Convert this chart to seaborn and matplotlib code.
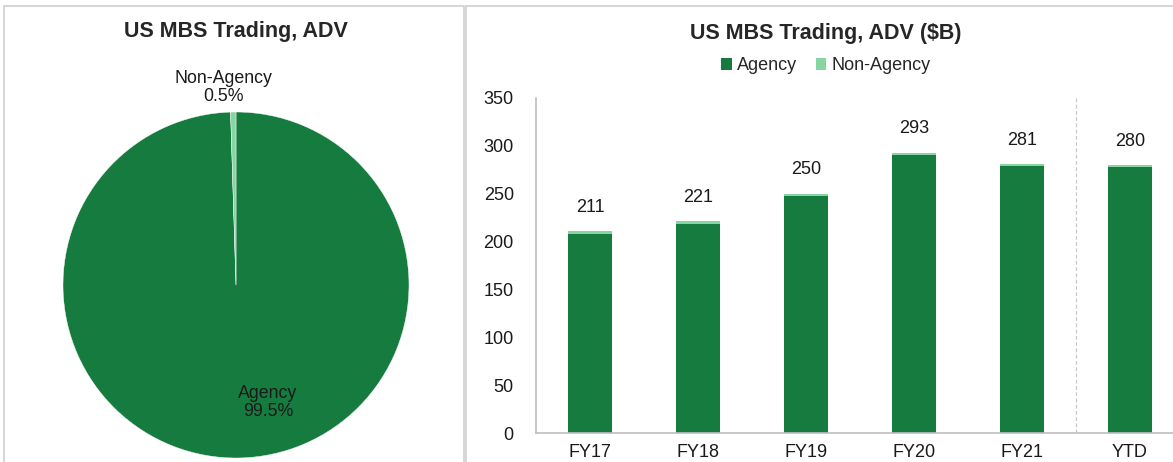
import pandas as pd
import numpy as np
import matplotlib
matplotlib.use("Agg")
import matplotlib.pyplot as plt
from matplotlib.patches import Rectangle
import seaborn as sns

# data
pie_labels = ["Agency", "Non-Agency"]
pie_share = [99.5, 0.5]

years = ["FY17", "FY18", "FY19", "FY20", "FY21", "YTD"]
agency = [207.8, 218.4, 247.8, 290.6, 279.0, 278.0]
non_agency = [3.2, 2.6, 2.2, 2.4, 2.0, 2.0]

dark_green = "#167B3E"
light_green = "#86D5A2"
grid_grey = "#BFBFBF"

sns.set_style("white")
plt.rcParams["font.family"] = ["Liberation Sans", "DejaVu Sans"]

W, H = 1173, 462
fig = plt.figure(figsize=(W / 100, H / 100), dpi=100)

def fx(px):
    return px / W

def fy(py):
    return 1 - py / H

# panel frames
fig.patches.append(Rectangle((fx(4), fy(470)), fx(460), fy(6) - fy(470), transform=fig.transFigure,
                             fill=False, edgecolor="#D0D0D0", linewidth=1.2))
fig.patches.append(Rectangle((fx(466), fy(470)), fx(720), fy(6) - fy(470), transform=fig.transFigure,
                             fill=False, edgecolor="#D0D0D0", linewidth=1.2))

# ---- pie ----
cx, cy, r = 236, 285, 173
ax1 = fig.add_axes([fx(cx - r), fy(cy + r), fx(2 * r), fy(cy - r) - fy(cy + r)])
ax1.pie(pie_share, colors=[dark_green, light_green], startangle=90, counterclock=False,
        radius=1, wedgeprops=dict(edgecolor="white", linewidth=0.3))
ax1.set_xlim(-1, 1)
ax1.set_ylim(-1, 1)
ax1.set_aspect("equal")
ax1.axis("off")
ax1.text(0.185, -0.68, f"{pie_labels[0]}\n{pie_share[0]}%", ha="center", va="center",
         fontsize=12.8, color="#1a1a1a", linespacing=1.1)
ax1.text(-0.075, 1.14, f"{pie_labels[1]}\n{pie_share[1]}%", ha="center", va="center",
         fontsize=12.8, color="#1a1a1a", linespacing=1.1)
fig.text(fx(236), fy(31), "US MBS Trading, ADV", ha="center", va="center",
         fontsize=15.5, fontweight="bold")

# ---- stacked bars ----
df = pd.DataFrame({"year": years, "Agency": agency, "Non-Agency": non_agency})
df["total"] = df["Agency"] + df["Non-Agency"]

left, zero_y, top_y = 536, 433, 98
ax2 = fig.add_axes([fx(left), fy(zero_y), fx(W - left), fy(top_y) - fy(zero_y)])
sns.barplot(data=df, x="year", y="total", color=light_green, width=0.4, saturation=1,
            ax=ax2, label="Non-Agency", linewidth=0)
sns.barplot(data=df, x="year", y="Agency", color=dark_green, width=0.4, saturation=1,
            ax=ax2, label="Agency", linewidth=0)
ax2.set_ylim(0, 350)
ax2.set_yticks(np.arange(0, 351, 50))
ax2.set_xlim(-0.5, -0.5 + (W - left) / 108)
ax2.set_xlabel("")
ax2.set_ylabel("")
ax2.tick_params(axis="both", length=0, labelsize=13, colors="#1a1a1a")
ax2.tick_params(axis="y", pad=16)
ax2.tick_params(axis="x", pad=8)
for side in ["top", "right"]:
    ax2.spines[side].set_visible(False)
for side in ["left", "bottom"]:
    ax2.spines[side].set_color(grid_grey)
    ax2.spines[side].set_linewidth(1.2)

for i, tot in enumerate(df["total"]):
    ax2.annotate(f"{tot:.0f}", (i, tot), xytext=(0, 11), textcoords="offset points",
                 ha="center", va="bottom", fontsize=13, color="#1a1a1a")

ax2.axvline(len(years) - 1.5, ymin=0, ymax=1.0, color="#C8C8C8", linestyle=(0, (3, 2)),
            linewidth=0.9)

handles, labels = ax2.get_legend_handles_labels()
order = [labels.index("Agency"), labels.index("Non-Agency")]
fig.legend([handles[k] for k in order], [labels[k] for k in order], loc="center",
           bbox_to_anchor=(fx(826), fy(66)), ncol=2, frameon=False, fontsize=13,
           handlelength=0.6, handleheight=0.6, handletextpad=0.3, columnspacing=1.0)
if ax2.get_legend() is not None:
    ax2.get_legend().remove()

fig.text(fx(826), fy(34), "US MBS Trading, ADV ($B)", ha="center", va="center",
         fontsize=15.5, fontweight="bold")

fig.savefig("out.png", dpi=100)
plt.close(fig)
